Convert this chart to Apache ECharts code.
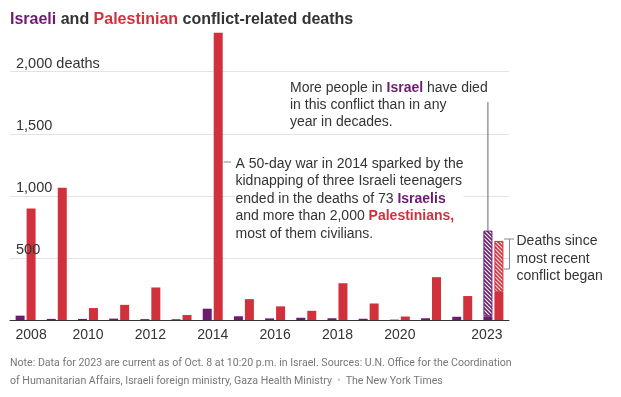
<!DOCTYPE html>
<html>
<head>
<meta charset="utf-8">
<script src="https://cdn.jsdelivr.net/npm/echarts@6/dist/echarts.min.js"></script>
<style>
    html, body { margin: 0; padding: 0; background: #fff; }
    #myChart { width: 621px; height: 397px; }
</style>
</head>
<body>
<div id="myChart"></div>
<script>
    // 年份
    var years = ['2008', '2009', '2010', '2011', '2012', '2013', '2014', '2015',
                 '2016', '2017', '2018', '2019', '2020', '2021', '2022', '2023'];
    var yearLabels = ['2008', '2010', '2012', '2014', '2016', '2018', '2020', '2023'];
    // 以色列死亡人数 / Israeli deaths
    var israeliDeaths = [35, 9, 9, 11, 7, 6, 91, 30, 13, 18, 14, 10, 3, 14, 26, 30];
    var israeliSinceConflict = [null, null, null, null, null, null, null, null,
                                null, null, null, null, null, null, null, 690];
    // 巴勒斯坦死亡人数 / Palestinian deaths
    var palestinianDeaths = [899, 1066, 96, 122, 262, 40, 2314, 168, 110, 74, 296, 133, 28, 345, 193, 227];
    var palestinianSinceConflict = [null, null, null, null, null, null, null, null,
                                    null, null, null, null, null, null, null, 410];
    var yTicks = [500, 1000, 1500, 2000];
    var yTickLabels = ['500', '1,000', '1,500', '2,000 deaths'];

    var PURPLE = '#6d1a71';
    var RED = '#d0313c';
    var FONT = 'Liberation Sans, Arial, sans-serif';
    var NARROW = 'Liberation Sans Narrow, Arial Narrow, Liberation Sans, sans-serif';

    // 斜线填充
    function hatch(color, bg) {
        var c = document.createElement('canvas');
        c.width = 4; c.height = 4;
        var ctx = c.getContext('2d');
        ctx.fillStyle = bg;
        ctx.fillRect(0, 0, 4, 4);
        ctx.strokeStyle = color;
        ctx.lineWidth = 1.6;
        ctx.beginPath();
        ctx.moveTo(-1, -1); ctx.lineTo(5, 5);
        ctx.moveTo(-1, 3); ctx.lineTo(1, 5);
        ctx.moveTo(3, -1); ctx.lineTo(5, 1);
        ctx.stroke();
        return c;
    }

    var myChart = echarts.init(document.getElementById('myChart'));

    var xData = years.map(function (y) {
        if (y === '2008') return {value: y, textStyle: {padding: [0, 0, 0, 11]}};
        if (y === '2023') return {value: y, textStyle: {padding: [0, 13, 0, 0]}};
        return y;
    });

    var option = {
        animation: false,
        grid: {left: 10, right: 112, top: 9.6, bottom: 77},
        xAxis: {
            type: 'category',
            data: xData,
            axisLine: {lineStyle: {color: '#333', width: 1}},
            axisTick: {show: false},
            axisLabel: {
                interval: 0, color: '#333', fontSize: 14, fontFamily: FONT, margin: 8,
                formatter: function (v) { return yearLabels.indexOf(v) >= 0 ? v : ''; }
            }
        },
        yAxis: [{
            type: 'value', min: 0, max: 2500, interval: 500, position: 'left',
            axisLine: {show: false}, axisTick: {show: false}, axisLabel: {show: false},
            splitLine: {lineStyle: {color: ['transparent', '#e3e3e3', '#e3e3e3', '#e3e3e3', '#e3e3e3', 'transparent']}}
        }, {
            type: 'value', min: 0, max: 2500, interval: 500, position: 'left', z: 5,
            axisLine: {show: false}, axisTick: {show: false}, splitLine: {show: false},
            axisLabel: {
                inside: true, margin: 6, align: 'left', verticalAlign: 'bottom', lineHeight: 15,
                color: '#333', fontSize: 14.5, fontFamily: FONT,
                formatter: function (v) {
                    var i = yTicks.indexOf(v);
                    return i < 0 ? '' : yTickLabels[i];
                }
            }
        }],
        series: [
            {
                name: 'Israeli', type: 'bar', stack: 'isr', data: israeliDeaths,
                barWidth: 9, barGap: '22%', itemStyle: {color: PURPLE}
            },
            {
                name: 'Israeli since conflict', type: 'bar', stack: 'isr', data: israeliSinceConflict,
                barWidth: 9, barGap: '22%',
                itemStyle: {color: {image: hatch(PURPLE, '#fff'), repeat: 'repeat'}, borderColor: PURPLE, borderWidth: 1}
            },
            {
                name: 'Palestinian', type: 'bar', stack: 'pal', data: palestinianDeaths,
                barWidth: 9, barGap: '22%', itemStyle: {color: RED}
            },
            {
                name: 'Palestinian since conflict', type: 'bar', stack: 'pal', data: palestinianSinceConflict,
                barWidth: 9, barGap: '22%',
                itemStyle: {color: {image: hatch(RED, '#fbe4e5'), repeat: 'repeat'}, borderColor: RED, borderWidth: 1}
            }
        ]
    };
    myChart.setOption(option);

    // 注释位置
    var last = years.length - 1;
    var pIsr = myChart.convertToPixel({seriesIndex: 0}, [years[last], israeliDeaths[last] + israeliSinceConflict[last]]);
    var p2014 = myChart.convertToPixel({seriesIndex: 2}, ['2014', palestinianDeaths[6]]);
    var isrX = pIsr[0] - 5.5;
    var redRight2014 = p2014[0] + 10;

    myChart.setOption({
        graphic: [
            {
                type: 'text', left: 10, top: 12,
                style: {
                    text: '{i|Israeli} and {p|Palestinian} conflict-related deaths',
                    font: 'bold 16px ' + NARROW, fill: '#333',
                    rich: {
                        i: {fill: PURPLE, font: 'bold 16px ' + NARROW},
                        p: {fill: RED, font: 'bold 16px ' + NARROW}
                    }
                }
            },
            {
                type: 'text', x: 290, y: 79.5, z: 10,
                style: {
                    text: 'More people in {i|Israel} have died\nin this conflict than in any\nyear in decades.',
                    font: '14px ' + FONT, fill: '#333', lineHeight: 17,
                    rich: {i: {fill: PURPLE, font: 'bold 14px ' + FONT, lineHeight: 17}}
                }
            },
            {
                type: 'line', z: 10,
                shape: {x1: isrX, y1: 102, x2: isrX, y2: pIsr[1]},
                style: {stroke: '#666', lineWidth: 1}
            },
            {
                type: 'text', x: 235.5, y: 155, z: 10,
                style: {
                    text: 'A 50-day war in 2014 sparked by the\nkidnapping of three Israeli teenagers\nended in the deaths of 73 {i|Israelis}\nand more than 2,000 {p|Palestinians,}\nmost of them civilians.',
                    font: '14px ' + FONT, fill: '#333', lineHeight: 17.6, backgroundColor: '#fff',
                    rich: {
                        i: {fill: PURPLE, font: 'bold 14px ' + FONT, lineHeight: 17.6},
                        p: {fill: RED, font: 'bold 14px ' + FONT, lineHeight: 17.6}
                    }
                }
            },
            {
                type: 'line', z: 10,
                shape: {x1: redRight2014 + 1, y1: 162, x2: 231, y2: 162},
                style: {stroke: '#888', lineWidth: 1}
            },
            {
                type: 'text', x: 516.5, y: 232.5, z: 10,
                style: {
                    text: 'Deaths since\nmost recent\nconflict began',
                    font: '14px ' + FONT, fill: '#333', lineHeight: 17.5
                }
            },
            {
                type: 'polyline', z: 10,
                shape: {points: [[504, 269], [509.5, 269], [509.5, 239], [504, 239]]},
                style: {stroke: '#888', lineWidth: 1, fill: null}
            },
            {
                type: 'line', z: 10,
                shape: {x1: 509.5, y1: 239, x2: 514, y2: 239},
                style: {stroke: '#888', lineWidth: 1}
            },
            {
                type: 'text', x: 10, y: 354,
                style: {
                    text: 'Note: Data for 2023 are current as of Oct. 8 at 10:20 p.m. in Israel. Sources: U.N. Office for the Coordination\nof Humanitarian Affairs, Israeli foreign ministry, Gaza Health Ministry  {d|•}  The New York Times',
                    font: '10.6px Roboto, sans-serif', fill: '#777', lineHeight: 18,
                    rich: {d: {fill: '#ccc', font: '9px ' + FONT, lineHeight: 18}}
                }
            }
        ]
    });
</script>
</body>
</html>
